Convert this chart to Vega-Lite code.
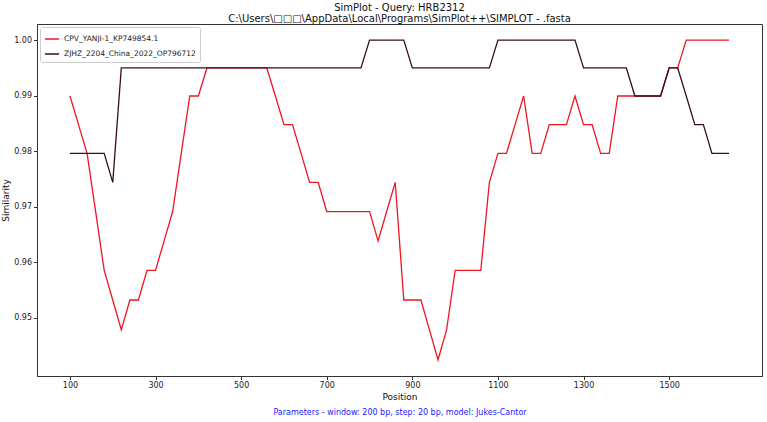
{
  "$schema": "https://vega.github.io/schema/vega-lite/v6.json",
  "width": 725,
  "height": 352,
  "autosize": {"type": "none"},
  "padding": {"left": 37, "top": 24, "right": 5, "bottom": 46},
  "background": "white",
  "config": {
    "font": "DejaVu Sans",
    "view": {"stroke": "#333333", "strokeWidth": 1},
    "axis": {"labelFont": "DejaVu Sans", "titleFont": "DejaVu Sans", "grid": false, "domainColor": "#333333", "tickColor": "#333333", "labelColor": "#222222", "titleColor": "#111111", "titleFontWeight": "normal"}
  },
  "title": {
    "text": ["SimPlot - Query: HRB2312", "C:\\Users\\□□□\\AppData\\Local\\Programs\\SimPlot++\\SIMPLOT - .fasta"],
    "fontSize": 10,
    "fontWeight": "normal",
    "color": "#111111",
    "anchor": "middle",
    "lineHeight": 11,
    "offset": 0
  },
  "data": {
    "values": [
      {"position": 100, "series": "CPV_YANJI-1_KP749854.1", "similarity": 0.98993},
      {"position": 120, "series": "CPV_YANJI-1_KP749854.1", "similarity": 0.98477},
      {"position": 140, "series": "CPV_YANJI-1_KP749854.1", "similarity": 0.97959},
      {"position": 160, "series": "CPV_YANJI-1_KP749854.1", "similarity": 0.96912},
      {"position": 180, "series": "CPV_YANJI-1_KP749854.1", "similarity": 0.95853},
      {"position": 200, "series": "CPV_YANJI-1_KP749854.1", "similarity": 0.95319},
      {"position": 220, "series": "CPV_YANJI-1_KP749854.1", "similarity": 0.94782},
      {"position": 240, "series": "CPV_YANJI-1_KP749854.1", "similarity": 0.95319},
      {"position": 260, "series": "CPV_YANJI-1_KP749854.1", "similarity": 0.95319},
      {"position": 280, "series": "CPV_YANJI-1_KP749854.1", "similarity": 0.95853},
      {"position": 300, "series": "CPV_YANJI-1_KP749854.1", "similarity": 0.95853},
      {"position": 320, "series": "CPV_YANJI-1_KP749854.1", "similarity": 0.96384},
      {"position": 340, "series": "CPV_YANJI-1_KP749854.1", "similarity": 0.96912},
      {"position": 360, "series": "CPV_YANJI-1_KP749854.1", "similarity": 0.97959},
      {"position": 380, "series": "CPV_YANJI-1_KP749854.1", "similarity": 0.98993},
      {"position": 400, "series": "CPV_YANJI-1_KP749854.1", "similarity": 0.98993},
      {"position": 420, "series": "CPV_YANJI-1_KP749854.1", "similarity": 0.99498},
      {"position": 440, "series": "CPV_YANJI-1_KP749854.1", "similarity": 0.99498},
      {"position": 460, "series": "CPV_YANJI-1_KP749854.1", "similarity": 0.99498},
      {"position": 480, "series": "CPV_YANJI-1_KP749854.1", "similarity": 0.99498},
      {"position": 500, "series": "CPV_YANJI-1_KP749854.1", "similarity": 0.99498},
      {"position": 520, "series": "CPV_YANJI-1_KP749854.1", "similarity": 0.99498},
      {"position": 540, "series": "CPV_YANJI-1_KP749854.1", "similarity": 0.99498},
      {"position": 560, "series": "CPV_YANJI-1_KP749854.1", "similarity": 0.99498},
      {"position": 580, "series": "CPV_YANJI-1_KP749854.1", "similarity": 0.98993},
      {"position": 600, "series": "CPV_YANJI-1_KP749854.1", "similarity": 0.98477},
      {"position": 620, "series": "CPV_YANJI-1_KP749854.1", "similarity": 0.98477},
      {"position": 640, "series": "CPV_YANJI-1_KP749854.1", "similarity": 0.97959},
      {"position": 660, "series": "CPV_YANJI-1_KP749854.1", "similarity": 0.97437},
      {"position": 680, "series": "CPV_YANJI-1_KP749854.1", "similarity": 0.97437},
      {"position": 700, "series": "CPV_YANJI-1_KP749854.1", "similarity": 0.96912},
      {"position": 720, "series": "CPV_YANJI-1_KP749854.1", "similarity": 0.96912},
      {"position": 740, "series": "CPV_YANJI-1_KP749854.1", "similarity": 0.96912},
      {"position": 760, "series": "CPV_YANJI-1_KP749854.1", "similarity": 0.96912},
      {"position": 780, "series": "CPV_YANJI-1_KP749854.1", "similarity": 0.96912},
      {"position": 800, "series": "CPV_YANJI-1_KP749854.1", "similarity": 0.96912},
      {"position": 820, "series": "CPV_YANJI-1_KP749854.1", "similarity": 0.96384},
      {"position": 840, "series": "CPV_YANJI-1_KP749854.1", "similarity": 0.96912},
      {"position": 860, "series": "CPV_YANJI-1_KP749854.1", "similarity": 0.97437},
      {"position": 880, "series": "CPV_YANJI-1_KP749854.1", "similarity": 0.95319},
      {"position": 900, "series": "CPV_YANJI-1_KP749854.1", "similarity": 0.95319},
      {"position": 920, "series": "CPV_YANJI-1_KP749854.1", "similarity": 0.95319},
      {"position": 940, "series": "CPV_YANJI-1_KP749854.1", "similarity": 0.94782},
      {"position": 960, "series": "CPV_YANJI-1_KP749854.1", "similarity": 0.94242},
      {"position": 980, "series": "CPV_YANJI-1_KP749854.1", "similarity": 0.94782},
      {"position": 1000, "series": "CPV_YANJI-1_KP749854.1", "similarity": 0.95853},
      {"position": 1020, "series": "CPV_YANJI-1_KP749854.1", "similarity": 0.95853},
      {"position": 1040, "series": "CPV_YANJI-1_KP749854.1", "similarity": 0.95853},
      {"position": 1060, "series": "CPV_YANJI-1_KP749854.1", "similarity": 0.95853},
      {"position": 1080, "series": "CPV_YANJI-1_KP749854.1", "similarity": 0.97437},
      {"position": 1100, "series": "CPV_YANJI-1_KP749854.1", "similarity": 0.97959},
      {"position": 1120, "series": "CPV_YANJI-1_KP749854.1", "similarity": 0.97959},
      {"position": 1140, "series": "CPV_YANJI-1_KP749854.1", "similarity": 0.98477},
      {"position": 1160, "series": "CPV_YANJI-1_KP749854.1", "similarity": 0.98993},
      {"position": 1180, "series": "CPV_YANJI-1_KP749854.1", "similarity": 0.97959},
      {"position": 1200, "series": "CPV_YANJI-1_KP749854.1", "similarity": 0.97959},
      {"position": 1220, "series": "CPV_YANJI-1_KP749854.1", "similarity": 0.98477},
      {"position": 1240, "series": "CPV_YANJI-1_KP749854.1", "similarity": 0.98477},
      {"position": 1260, "series": "CPV_YANJI-1_KP749854.1", "similarity": 0.98477},
      {"position": 1280, "series": "CPV_YANJI-1_KP749854.1", "similarity": 0.98993},
      {"position": 1300, "series": "CPV_YANJI-1_KP749854.1", "similarity": 0.98477},
      {"position": 1320, "series": "CPV_YANJI-1_KP749854.1", "similarity": 0.98477},
      {"position": 1340, "series": "CPV_YANJI-1_KP749854.1", "similarity": 0.97959},
      {"position": 1360, "series": "CPV_YANJI-1_KP749854.1", "similarity": 0.97959},
      {"position": 1380, "series": "CPV_YANJI-1_KP749854.1", "similarity": 0.98993},
      {"position": 1400, "series": "CPV_YANJI-1_KP749854.1", "similarity": 0.98993},
      {"position": 1420, "series": "CPV_YANJI-1_KP749854.1", "similarity": 0.98993},
      {"position": 1440, "series": "CPV_YANJI-1_KP749854.1", "similarity": 0.98993},
      {"position": 1460, "series": "CPV_YANJI-1_KP749854.1", "similarity": 0.98993},
      {"position": 1480, "series": "CPV_YANJI-1_KP749854.1", "similarity": 0.98993},
      {"position": 1500, "series": "CPV_YANJI-1_KP749854.1", "similarity": 0.99498},
      {"position": 1520, "series": "CPV_YANJI-1_KP749854.1", "similarity": 0.99498},
      {"position": 1540, "series": "CPV_YANJI-1_KP749854.1", "similarity": 1.0},
      {"position": 1560, "series": "CPV_YANJI-1_KP749854.1", "similarity": 1.0},
      {"position": 1580, "series": "CPV_YANJI-1_KP749854.1", "similarity": 1.0},
      {"position": 1600, "series": "CPV_YANJI-1_KP749854.1", "similarity": 1.0},
      {"position": 1620, "series": "CPV_YANJI-1_KP749854.1", "similarity": 1.0},
      {"position": 1640, "series": "CPV_YANJI-1_KP749854.1", "similarity": 1.0},
      {"position": 100, "series": "ZJHZ_2204_China_2022_OP796712", "similarity": 0.97959},
      {"position": 120, "series": "ZJHZ_2204_China_2022_OP796712", "similarity": 0.97959},
      {"position": 140, "series": "ZJHZ_2204_China_2022_OP796712", "similarity": 0.97959},
      {"position": 160, "series": "ZJHZ_2204_China_2022_OP796712", "similarity": 0.97959},
      {"position": 180, "series": "ZJHZ_2204_China_2022_OP796712", "similarity": 0.97959},
      {"position": 200, "series": "ZJHZ_2204_China_2022_OP796712", "similarity": 0.97437},
      {"position": 220, "series": "ZJHZ_2204_China_2022_OP796712", "similarity": 0.99498},
      {"position": 240, "series": "ZJHZ_2204_China_2022_OP796712", "similarity": 0.99498},
      {"position": 260, "series": "ZJHZ_2204_China_2022_OP796712", "similarity": 0.99498},
      {"position": 280, "series": "ZJHZ_2204_China_2022_OP796712", "similarity": 0.99498},
      {"position": 300, "series": "ZJHZ_2204_China_2022_OP796712", "similarity": 0.99498},
      {"position": 320, "series": "ZJHZ_2204_China_2022_OP796712", "similarity": 0.99498},
      {"position": 340, "series": "ZJHZ_2204_China_2022_OP796712", "similarity": 0.99498},
      {"position": 360, "series": "ZJHZ_2204_China_2022_OP796712", "similarity": 0.99498},
      {"position": 380, "series": "ZJHZ_2204_China_2022_OP796712", "similarity": 0.99498},
      {"position": 400, "series": "ZJHZ_2204_China_2022_OP796712", "similarity": 0.99498},
      {"position": 420, "series": "ZJHZ_2204_China_2022_OP796712", "similarity": 0.99498},
      {"position": 440, "series": "ZJHZ_2204_China_2022_OP796712", "similarity": 0.99498},
      {"position": 460, "series": "ZJHZ_2204_China_2022_OP796712", "similarity": 0.99498},
      {"position": 480, "series": "ZJHZ_2204_China_2022_OP796712", "similarity": 0.99498},
      {"position": 500, "series": "ZJHZ_2204_China_2022_OP796712", "similarity": 0.99498},
      {"position": 520, "series": "ZJHZ_2204_China_2022_OP796712", "similarity": 0.99498},
      {"position": 540, "series": "ZJHZ_2204_China_2022_OP796712", "similarity": 0.99498},
      {"position": 560, "series": "ZJHZ_2204_China_2022_OP796712", "similarity": 0.99498},
      {"position": 580, "series": "ZJHZ_2204_China_2022_OP796712", "similarity": 0.99498},
      {"position": 600, "series": "ZJHZ_2204_China_2022_OP796712", "similarity": 0.99498},
      {"position": 620, "series": "ZJHZ_2204_China_2022_OP796712", "similarity": 0.99498},
      {"position": 640, "series": "ZJHZ_2204_China_2022_OP796712", "similarity": 0.99498},
      {"position": 660, "series": "ZJHZ_2204_China_2022_OP796712", "similarity": 0.99498},
      {"position": 680, "series": "ZJHZ_2204_China_2022_OP796712", "similarity": 0.99498},
      {"position": 700, "series": "ZJHZ_2204_China_2022_OP796712", "similarity": 0.99498},
      {"position": 720, "series": "ZJHZ_2204_China_2022_OP796712", "similarity": 0.99498},
      {"position": 740, "series": "ZJHZ_2204_China_2022_OP796712", "similarity": 0.99498},
      {"position": 760, "series": "ZJHZ_2204_China_2022_OP796712", "similarity": 0.99498},
      {"position": 780, "series": "ZJHZ_2204_China_2022_OP796712", "similarity": 0.99498},
      {"position": 800, "series": "ZJHZ_2204_China_2022_OP796712", "similarity": 1.0},
      {"position": 820, "series": "ZJHZ_2204_China_2022_OP796712", "similarity": 1.0},
      {"position": 840, "series": "ZJHZ_2204_China_2022_OP796712", "similarity": 1.0},
      {"position": 860, "series": "ZJHZ_2204_China_2022_OP796712", "similarity": 1.0},
      {"position": 880, "series": "ZJHZ_2204_China_2022_OP796712", "similarity": 1.0},
      {"position": 900, "series": "ZJHZ_2204_China_2022_OP796712", "similarity": 0.99498},
      {"position": 920, "series": "ZJHZ_2204_China_2022_OP796712", "similarity": 0.99498},
      {"position": 940, "series": "ZJHZ_2204_China_2022_OP796712", "similarity": 0.99498},
      {"position": 960, "series": "ZJHZ_2204_China_2022_OP796712", "similarity": 0.99498},
      {"position": 980, "series": "ZJHZ_2204_China_2022_OP796712", "similarity": 0.99498},
      {"position": 1000, "series": "ZJHZ_2204_China_2022_OP796712", "similarity": 0.99498},
      {"position": 1020, "series": "ZJHZ_2204_China_2022_OP796712", "similarity": 0.99498},
      {"position": 1040, "series": "ZJHZ_2204_China_2022_OP796712", "similarity": 0.99498},
      {"position": 1060, "series": "ZJHZ_2204_China_2022_OP796712", "similarity": 0.99498},
      {"position": 1080, "series": "ZJHZ_2204_China_2022_OP796712", "similarity": 0.99498},
      {"position": 1100, "series": "ZJHZ_2204_China_2022_OP796712", "similarity": 1.0},
      {"position": 1120, "series": "ZJHZ_2204_China_2022_OP796712", "similarity": 1.0},
      {"position": 1140, "series": "ZJHZ_2204_China_2022_OP796712", "similarity": 1.0},
      {"position": 1160, "series": "ZJHZ_2204_China_2022_OP796712", "similarity": 1.0},
      {"position": 1180, "series": "ZJHZ_2204_China_2022_OP796712", "similarity": 1.0},
      {"position": 1200, "series": "ZJHZ_2204_China_2022_OP796712", "similarity": 1.0},
      {"position": 1220, "series": "ZJHZ_2204_China_2022_OP796712", "similarity": 1.0},
      {"position": 1240, "series": "ZJHZ_2204_China_2022_OP796712", "similarity": 1.0},
      {"position": 1260, "series": "ZJHZ_2204_China_2022_OP796712", "similarity": 1.0},
      {"position": 1280, "series": "ZJHZ_2204_China_2022_OP796712", "similarity": 1.0},
      {"position": 1300, "series": "ZJHZ_2204_China_2022_OP796712", "similarity": 0.99498},
      {"position": 1320, "series": "ZJHZ_2204_China_2022_OP796712", "similarity": 0.99498},
      {"position": 1340, "series": "ZJHZ_2204_China_2022_OP796712", "similarity": 0.99498},
      {"position": 1360, "series": "ZJHZ_2204_China_2022_OP796712", "similarity": 0.99498},
      {"position": 1380, "series": "ZJHZ_2204_China_2022_OP796712", "similarity": 0.99498},
      {"position": 1400, "series": "ZJHZ_2204_China_2022_OP796712", "similarity": 0.99498},
      {"position": 1420, "series": "ZJHZ_2204_China_2022_OP796712", "similarity": 0.98993},
      {"position": 1440, "series": "ZJHZ_2204_China_2022_OP796712", "similarity": 0.98993},
      {"position": 1460, "series": "ZJHZ_2204_China_2022_OP796712", "similarity": 0.98993},
      {"position": 1480, "series": "ZJHZ_2204_China_2022_OP796712", "similarity": 0.98993},
      {"position": 1500, "series": "ZJHZ_2204_China_2022_OP796712", "similarity": 0.99498},
      {"position": 1520, "series": "ZJHZ_2204_China_2022_OP796712", "similarity": 0.99498},
      {"position": 1540, "series": "ZJHZ_2204_China_2022_OP796712", "similarity": 0.98993},
      {"position": 1560, "series": "ZJHZ_2204_China_2022_OP796712", "similarity": 0.98477},
      {"position": 1580, "series": "ZJHZ_2204_China_2022_OP796712", "similarity": 0.98477},
      {"position": 1600, "series": "ZJHZ_2204_China_2022_OP796712", "similarity": 0.97959},
      {"position": 1620, "series": "ZJHZ_2204_China_2022_OP796712", "similarity": 0.97959},
      {"position": 1640, "series": "ZJHZ_2204_China_2022_OP796712", "similarity": 0.97959}
    ]
  },
  "layer": [
    {
      "mark": {"type": "line", "strokeWidth": 1.3, "interpolate": "linear"},
      "encoding": {
        "x": {
          "field": "position", "type": "quantitative",
          "scale": {"domain": [23, 1717], "nice": false, "zero": false},
          "axis": {"title": "Position", "values": [100, 300, 500, 700, 900, 1100, 1300, 1500], "format": "d", "labelFontSize": 8, "titleFontSize": 9, "tickSize": 3.5, "labelPadding": 2, "titlePadding": 3, "labelFlush": false}
        },
        "y": {
          "field": "similarity", "type": "quantitative",
          "scale": {"domain": [0.9395, 1.0029], "nice": false, "zero": false},
          "axis": {"title": "Similarity", "values": [0.95, 0.96, 0.97, 0.98, 0.99, 1.0], "format": ".2f", "labelFontSize": 8, "titleFontSize": 9, "tickSize": 3.5, "labelPadding": 2, "titlePadding": 3, "labelFlush": false}
        },
        "color": {
          "field": "series", "type": "nominal",
          "scale": {"domain": ["CPV_YANJI-1_KP749854.1", "ZJHZ_2204_China_2022_OP796712"], "range": ["#f01520", "#3a0d1c"]},
          "legend": {
            "title": null, "orient": "top-left", "offset": 3, "symbolType": "stroke", "symbolSize": 200, "symbolStrokeWidth": 1.5,
            "labelFontSize": 7.5, "labelColor": "#222222", "labelFont": "DejaVu Sans", "rowPadding": 3, "padding": 4,
            "strokeColor": "#cccccc", "fillColor": "white", "cornerRadius": 2
          }
        }
      }
    },
    {
      "mark": {"type": "line", "opacity": 0},
      "encoding": {
        "x": {
          "field": "position", "type": "quantitative",
          "scale": {"domain": [23, 1717], "nice": false, "zero": false},
          "axis": {"orient": "bottom", "title": "Parameters - window: 200 bp, step: 20 bp, model: Jukes-Cantor", "titleColor": "#1a1aff", "titleFontSize": 8, "labels": false, "ticks": false, "domain": false, "titlePadding": 32}
        },
        "y": {"field": "similarity", "type": "quantitative"}
      }
    }
  ],
  "resolve": {"axis": {"x": "independent"}}
}
